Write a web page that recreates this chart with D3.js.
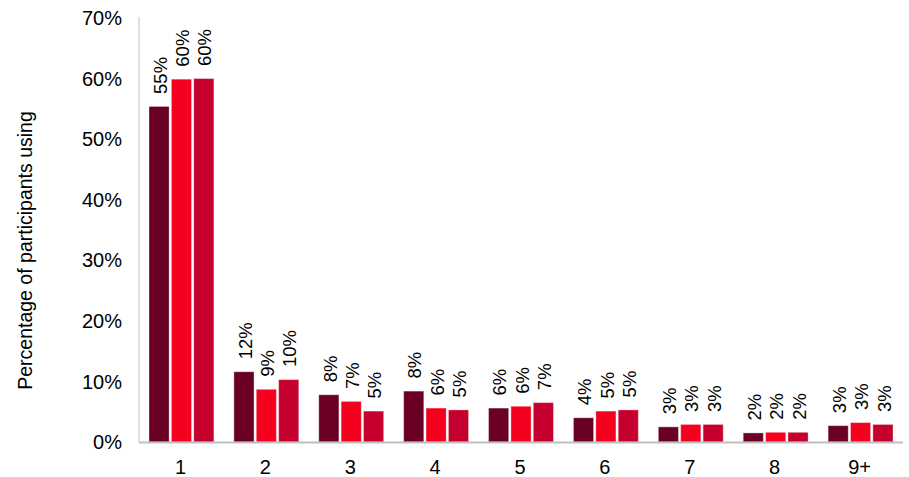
<!DOCTYPE html>
<html>
<head>
<meta charset="utf-8">
<script src="https://cdn.jsdelivr.net/npm/d3@7"></script>
<style>
  html, body { margin: 0; padding: 0; background: #fff; }
  svg { display: block; font-family: Arial, "Liberation Sans", sans-serif; }
</style>
</head>
<body>
<svg id="chart" width="909" height="477"></svg>
<script>
const categories = ["1", "2", "3", "4", "5", "6", "7", "8", "9+"];
const seriesNames = ["Series A", "Series B", "Series C"];
const seriesA = [55.4, 11.6, 7.8, 8.4, 5.6, 4.0, 2.5, 1.5, 2.7];
const seriesB = [59.9, 8.7, 6.7, 5.6, 5.9, 5.1, 2.9, 1.6, 3.2];
const seriesC = [60.0, 10.3, 5.1, 5.3, 6.5, 5.3, 2.9, 1.6, 2.9];
const yTicks = [0, 10, 20, 30, 40, 50, 60, 70];
const colors = ["#6B0027", "#F5001E", "#C6002E"];
const yTitle = "Percentage of participants using";

(function () {
const series = [seriesA, seriesB, seriesC];
const svg = d3.select("#chart");
const mLeft = 139, mRight = 903, mTop = 18, mBottom = 442;

const y = d3.scaleLinear().domain([0, 70]).range([mBottom, mTop]);
const x0 = d3.scaleBand().domain(categories).range([mLeft, mRight]).padding(0);
const x1 = d3.scaleBand().domain(seriesNames).range([10, x0.bandwidth() - 10]).paddingInner(0.1);

// y axis line
svg.append("line").attr("x1", mLeft).attr("x2", mLeft).attr("y1", y(70) - 1).attr("y2", mBottom)
  .attr("stroke", "#BFBFBF").attr("stroke-width", 1);

// y tick labels
svg.append("g").selectAll("text").data(yTicks).join("text")
  .attr("x", 122).attr("y", d => y(d)).attr("dy", "0.36em")
  .attr("text-anchor", "end").attr("font-size", "20px").attr("fill", "#000")
  .text(d => d + "%");

// bars
const groups = svg.append("g").selectAll("g").data(categories).join("g")
  .attr("transform", c => `translate(${x0(c)},0)`);

groups.each(function (c, i) {
  const g = d3.select(this);
  series.forEach((s, k) => {
    const v = s[i];
    const bx = x1(seriesNames[k]);
    g.append("rect")
      .attr("x", bx).attr("y", y(v))
      .attr("width", x1.bandwidth()).attr("height", y(0) - y(v))
      .attr("fill", colors[k])
      .attr("stroke", "#ffffff").attr("stroke-opacity", 0.35).attr("stroke-width", 1);
    const tx = bx + x1.bandwidth() / 2 + 1;
    const ty = y(v) - 12.5;
    g.append("text")
      .attr("transform", `translate(${tx},${ty}) rotate(-90)`)
      .attr("dy", "0.36em")
      .attr("text-anchor", "start").attr("font-size", "18.5px").attr("fill", "#000")
      .text(Math.round(v) + "%");
  });
});

// x axis line
svg.append("line").attr("x1", mLeft).attr("x2", mRight).attr("y1", mBottom + 0.5).attr("y2", mBottom + 0.5)
  .attr("stroke", "#BFBFBF").attr("stroke-width", 2);

// x labels
svg.append("g").selectAll("text").data(categories).join("text")
  .attr("x", c => x0(c) + x0.bandwidth() / 2 - 1).attr("y", 474)
  .attr("text-anchor", "middle").attr("font-size", "20px").attr("fill", "#000")
  .text(c => c);

// y title
svg.append("text")
  .attr("transform", "translate(25,250.5) rotate(-90)")
  .attr("dy", "0.36em").attr("text-anchor", "middle")
  .attr("font-size", "19.5px").attr("fill", "#000")
  .text(yTitle);
})();
</script>
</body>
</html>
